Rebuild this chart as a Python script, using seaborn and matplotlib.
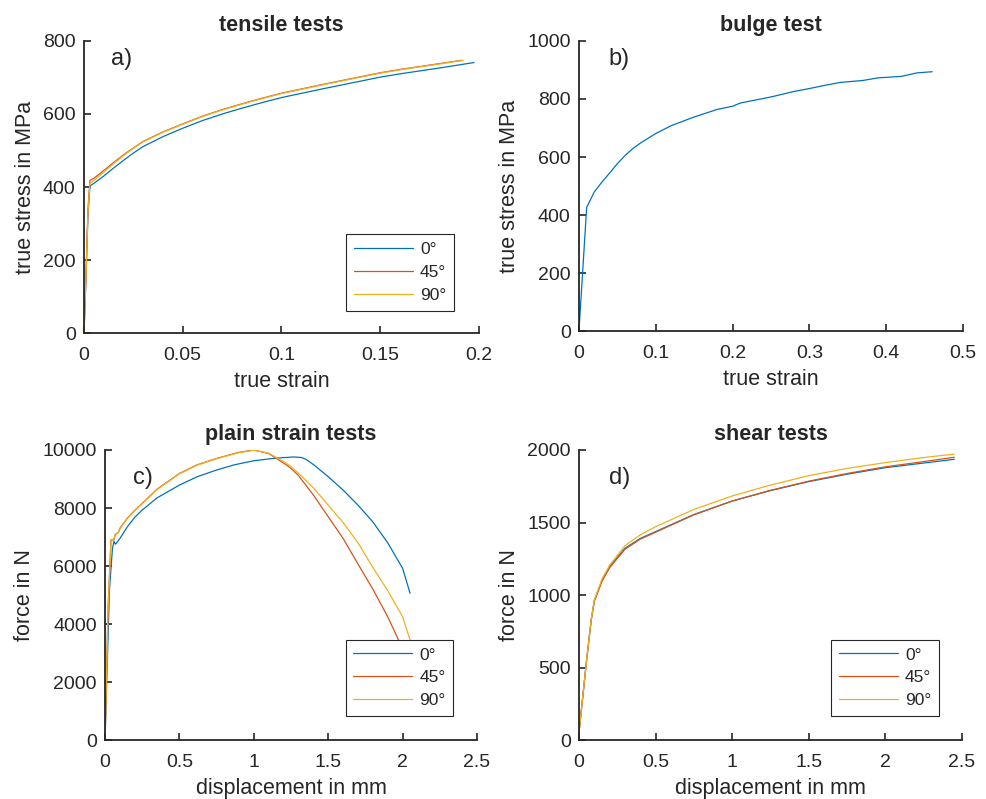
import numpy as np
import pandas as pd
import seaborn as sns
import matplotlib.pyplot as plt
from matplotlib.ticker import FormatStrFormatter

# MATLAB default line colours
colors = ['#0072BD', '#D95319', '#EDB120']
angles = ['0°', '45°', '90°']

# a) tensile tests: true strain / true stress in MPa
tens_x_0 = [0, 0.001, 0.002, 0.003, 0.005, 0.01, 0.015, 0.02, 0.025, 0.03, 0.04, 0.05, 0.06, 0.07, 0.08,
            0.09, 0.1, 0.12, 0.14, 0.15, 0.16, 0.18, 0.1975]
tens_y_0 = [0, 150, 320, 403, 410, 430, 452, 473, 493, 511, 538, 561, 582, 600, 616,
            631, 645, 668, 690, 701, 710, 726, 741]
tens_x_45 = [0, 0.001, 0.002, 0.003, 0.005, 0.01, 0.015, 0.02, 0.025, 0.03, 0.04, 0.05, 0.06, 0.07, 0.08,
             0.09, 0.1, 0.12, 0.14, 0.15, 0.16, 0.18, 0.191]
tens_y_45 = [0, 160, 340, 418, 424, 445, 467, 488, 507, 525, 551, 573, 594, 612, 628,
             643, 657, 680, 702, 713, 722, 738, 747]
tens_x_90 = [0, 0.001, 0.002, 0.003, 0.005, 0.01, 0.015, 0.02, 0.025, 0.03, 0.04, 0.05, 0.06, 0.07, 0.08,
             0.09, 0.1, 0.12, 0.14, 0.15, 0.16, 0.18, 0.192]
tens_y_90 = [0, 155, 330, 410, 418, 441, 464, 486, 506, 524, 550, 572, 593, 611, 627,
             642, 656, 679, 701, 712, 721, 737, 747]

# b) bulge test
bulge_x = [0, 0.01, 0.02, 0.03, 0.04, 0.05, 0.06, 0.07, 0.08, 0.1, 0.12, 0.15, 0.18, 0.2, 0.21,
           0.25, 0.28, 0.3, 0.32, 0.34, 0.37, 0.39, 0.42, 0.44, 0.46]
bulge_y = [0, 426, 480, 514, 545, 577, 605, 629, 648, 681, 708, 738, 764, 775, 786,
           807, 826, 836, 847, 857, 864, 873, 878, 890, 894]

# c) plain strain tests: displacement in mm / force in N
ps_x_0 = [0, 0.03, 0.05, 0.06, 0.07, 0.1, 0.15, 0.2, 0.25, 0.35, 0.5, 0.62, 0.75, 0.87, 1.0, 1.15, 1.27,
          1.32, 1.35, 1.4, 1.5, 1.6, 1.7, 1.8, 1.9, 2.0, 2.05]
ps_y_0 = [0, 5200, 6600, 6850, 6750, 6950, 7350, 7680, 7930, 8350, 8790, 9080, 9310, 9490, 9630, 9720, 9760,
          9740, 9680, 9500, 9080, 8620, 8100, 7520, 6800, 5920, 5060]
ps_x_45 = [0, 0.02, 0.04, 0.06, 0.07, 0.09, 0.1, 0.15, 0.2, 0.25, 0.35, 0.5, 0.62, 0.75, 0.9, 1.0, 1.1,
           1.2, 1.25, 1.3, 1.4, 1.5, 1.6, 1.7, 1.8, 1.9, 2.0]
ps_y_45 = [0, 4500, 6900, 6900, 7100, 7150, 7300, 7650, 7920, 8160, 8650, 9190, 9490, 9710, 9920, 10000, 9880,
           9550, 9370, 9120, 8450, 7700, 6950, 6070, 5200, 4250, 3150]
ps_x_90 = [0, 0.02, 0.04, 0.06, 0.07, 0.09, 0.1, 0.15, 0.2, 0.25, 0.35, 0.5, 0.62, 0.75, 0.9, 1.0, 1.1,
           1.2, 1.25, 1.3, 1.4, 1.5, 1.6, 1.7, 1.8, 1.9, 2.0, 2.05]
ps_y_90 = [0, 4400, 6850, 6950, 7100, 7150, 7280, 7640, 7910, 8150, 8640, 9180, 9480, 9700, 9910, 9990, 9890,
           9600, 9425, 9200, 8700, 8100, 7500, 6800, 5950, 5150, 4250, 3450]

# d) shear tests
sh_x = [0, 0.05, 0.08, 0.1, 0.15, 0.2, 0.3, 0.4, 0.5, 0.75, 1.0, 1.25, 1.5, 1.75, 2.0, 2.25, 2.45]
sh_y_0 = [50, 552, 828, 960, 1100, 1195, 1322, 1390, 1437, 1555, 1648, 1720, 1782, 1833, 1878, 1910, 1936]
sh_y_45 = [50, 552, 828, 955, 1095, 1188, 1315, 1385, 1433, 1553, 1648, 1722, 1785, 1838, 1884, 1920, 1950]
sh_y_90 = [50, 555, 832, 965, 1110, 1205, 1340, 1415, 1471, 1590, 1683, 1758, 1823, 1873, 1913, 1948, 1972]


def long_df(xs, ys, labels):
    parts = []
    for x, y, lab in zip(xs, ys, labels):
        parts.append(pd.DataFrame({'x': x, 'y': y, 'angle': lab}))
    return pd.concat(parts, ignore_index=True)


sns.set_style('white')
plt.rcParams['font.family'] = ['Liberation Sans', 'DejaVu Sans']
plt.rcParams['font.size'] = 14
plt.rcParams['text.color'] = '#262626'
plt.rcParams['axes.labelcolor'] = '#262626'
plt.rcParams['xtick.color'] = '#262626'
plt.rcParams['ytick.color'] = '#262626'

fig = plt.figure(figsize=(9.87, 7.99), dpi=100)
ax_a = fig.add_axes([0.0851, 0.5832, 0.4002, 0.3655])
ax_b = fig.add_axes([0.5866, 0.5857, 0.3890, 0.3630])
ax_c = fig.add_axes([0.1064, 0.0738, 0.3769, 0.3630])
ax_d = fig.add_axes([0.5866, 0.0738, 0.3880, 0.3630])

df_a = long_df([tens_x_0, tens_x_45, tens_x_90], [tens_y_0, tens_y_45, tens_y_90], angles)
df_b = pd.DataFrame({'x': bulge_x, 'y': bulge_y})
df_c = long_df([ps_x_0, ps_x_45, ps_x_90], [ps_y_0, ps_y_45, ps_y_90], angles)
df_d = long_df([sh_x, sh_x, sh_x], [sh_y_0, sh_y_45, sh_y_90], angles)

lw = 0.9
sns.lineplot(data=df_a, x='x', y='y', hue='angle', palette=colors, estimator=None, sort=False,
             linewidth=lw, ax=ax_a)
sns.lineplot(data=df_b, x='x', y='y', color=colors[0], estimator=None, sort=False, linewidth=lw, ax=ax_b)
sns.lineplot(data=df_c, x='x', y='y', hue='angle', palette=colors, estimator=None, sort=False,
             linewidth=lw, ax=ax_c)
sns.lineplot(data=df_d, x='x', y='y', hue='angle', palette=colors, estimator=None, sort=False,
             linewidth=lw, ax=ax_d)

setup = [
    (ax_a, 'tensile tests', 'true strain', 'true stress in MPa', (0, 0.2), np.arange(0, 0.21, 0.05),
     (0, 800), np.arange(0, 801, 200), 'a)', (0.068, 0.938)),
    (ax_b, 'bulge test', 'true strain', 'true stress in MPa', (0, 0.5), np.arange(0, 0.51, 0.1),
     (0, 1000), np.arange(0, 1001, 200), 'b)', (0.078, 0.938)),
    (ax_c, 'plain strain tests', 'displacement in mm', 'force in N', (0, 2.5), np.arange(0, 2.51, 0.5),
     (0, 10000), np.arange(0, 10001, 2000), 'c)', (0.075, 0.903)),
    (ax_d, 'shear tests', 'displacement in mm', 'force in N', (0, 2.5), np.arange(0, 2.51, 0.5),
     (0, 2000), np.arange(0, 2001, 500), 'd)', (0.078, 0.903)),
]

for ax, title, xl, yl, xlim, xt, ylim, yt, tag, tagpos in setup:
    ax.set_title(title, fontweight='bold', fontsize=15.5, pad=7)
    ax.set_xlabel(xl, fontsize=15.5, labelpad=5)
    ax.set_ylabel(yl, fontsize=15.5, labelpad=5)
    ax.set_xlim(*xlim)
    ax.set_ylim(*ylim)
    ax.set_xticks(xt)
    ax.set_yticks(yt)
    ax.xaxis.set_major_formatter(FormatStrFormatter('%g'))
    ax.yaxis.set_major_formatter(FormatStrFormatter('%g'))
    ax.tick_params(bottom=True, left=True, direction='in', length=5, width=1.2, labelsize=14)
    ax.tick_params(axis='x', pad=10)
    ax.tick_params(axis='y', pad=6)
    for side in ['top', 'right']:
        ax.spines[side].set_visible(False)
    for side in ['left', 'bottom']:
        ax.spines[side].set_linewidth(1.3)
        ax.spines[side].set_color('#262626')
    ax.text(tagpos[0], tagpos[1], tag, transform=ax.transAxes, fontsize=17, va='center', ha='left')
    ax.grid(False)

for ax, anchor in [(ax_a, (0.959, 0.045)), (ax_c, (0.96, 0.052)), (ax_d, (0.963, 0.052))]:
    leg = ax.legend(loc='lower right', bbox_to_anchor=anchor, title=None, fontsize=12.5,
                    handlelength=3.4, handletextpad=0.4, borderpad=0.45, labelspacing=0.45,
                    fancybox=False, framealpha=1, edgecolor='#262626')
    leg.get_frame().set_linewidth(0.8)

plt.savefig('out.png', dpi=100)
